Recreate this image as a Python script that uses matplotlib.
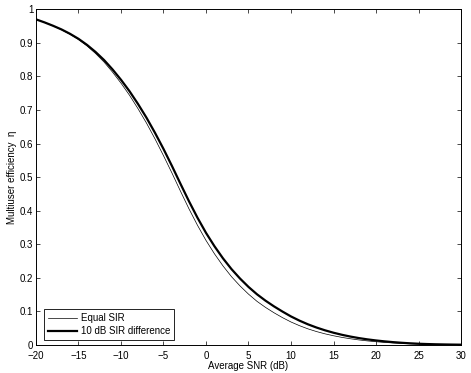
import matplotlib
matplotlib.use("Agg")
import matplotlib.pyplot as plt

# Average SNR in dB and multiuser efficiency
snr_db = list(range(-20, 31))

eta_equal = [0.970, 0.961, 0.9505, 0.939, 0.9255, 0.910, 0.891, 0.8685, 0.843, 0.813,
             0.780, 0.744, 0.704, 0.661, 0.614, 0.564, 0.512, 0.458, 0.4055, 0.3565,
             0.3115, 0.2715, 0.2355, 0.2035, 0.176, 0.1515, 0.130, 0.112, 0.096, 0.0815,
             0.0685, 0.0575, 0.048, 0.040, 0.0332, 0.0275, 0.0226, 0.0185, 0.015, 0.0121,
             0.0097, 0.0077, 0.006, 0.0046, 0.0034, 0.0025, 0.0019, 0.0014, 0.0011, 0.0008,
             0.0006]

eta_10db = [0.970, 0.961, 0.951, 0.940, 0.927, 0.912, 0.894, 0.873, 0.849, 0.821,
            0.790, 0.756, 0.718, 0.677, 0.632, 0.584, 0.533, 0.480, 0.428, 0.379,
            0.334, 0.294, 0.258, 0.226, 0.198, 0.173, 0.151, 0.132, 0.115, 0.0995,
            0.085, 0.0725, 0.0615, 0.052, 0.0437, 0.0365, 0.0303, 0.025, 0.0205, 0.0167,
            0.0135, 0.0108, 0.0085, 0.0066, 0.005, 0.0037, 0.0028, 0.0021, 0.0016, 0.0012,
            0.0009]

x_ticks = [-20, -15, -10, -5, 0, 5, 10, 15, 20, 25, 30]
y_ticks = [0, 0.1, 0.2, 0.3, 0.4, 0.5, 0.6, 0.7, 0.8, 0.9, 1]
y_labels = ["0", "0.1", "0.2", "0.3", "0.4", "0.5", "0.6", "0.7", "0.8", "0.9", "1"]

plt.rcParams['font.family'] = ['Liberation Sans', 'DejaVu Sans']
plt.rcParams['font.size'] = 7

fig = plt.figure(figsize=(4.71, 3.73), dpi=100)
ax = fig.add_axes([0.0764, 0.0751, 0.9024, 0.9000])

ax.plot(snr_db, eta_equal, color='black', linewidth=0.5, label='Equal SIR')
ax.plot(snr_db, eta_10db, color='black', linewidth=1.6, label='10 dB SIR difference',
        solid_joinstyle='round')

ax.set_xlim(-20, 30)
ax.set_ylim(0, 1)
ax.set_xticks(x_ticks)
ax.set_yticks(y_ticks)
ax.set_yticklabels(y_labels)
ax.tick_params(direction='in', length=3, width=0.5, top=True, right=True)
ax.tick_params(axis='x', pad=4)
ax.tick_params(axis='y', pad=2)
for s in ax.spines.values():
    s.set_linewidth(0.7)

ax.set_xlabel('Average SNR (dB)', labelpad=0)
ax.set_ylabel('Multiuser efficiency  η', labelpad=2)

leg = ax.legend(loc='lower left', bbox_to_anchor=(0.019, 0.015), borderaxespad=0,
                fancybox=False, framealpha=1, edgecolor='black',
                handlelength=3.0, handletextpad=0.4, labelspacing=0.3, borderpad=0.4)
leg.get_frame().set_linewidth(0.6)

fig.savefig('out.png', dpi=100)
